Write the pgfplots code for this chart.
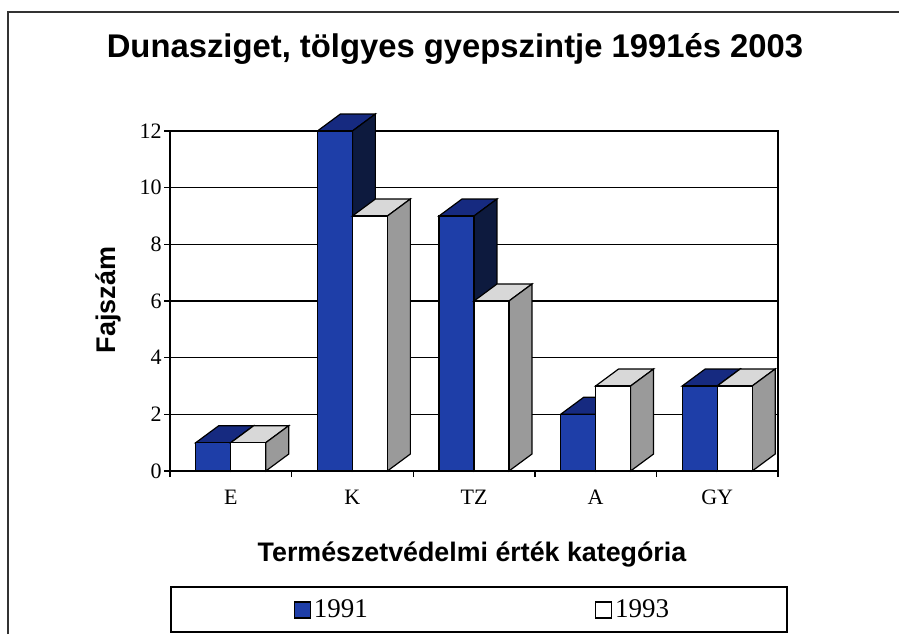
\documentclass[border=0pt]{standalone}
\usepackage{pgfplots}
\pgfplotsset{compat=1.18}
\usepackage{pgfplotstable}
\usepackage{fontspec}
\setmainfont{Liberation Serif}
\newfontfamily\arialfont{Liberation Sans}
\definecolor{front91}{RGB}{30,62,168}
\definecolor{top91}{RGB}{22,42,128}
\definecolor{side91}{RGB}{13,26,62}
\definecolor{top93}{RGB}{216,216,216}
\definecolor{side93}{RGB}{154,154,154}
\pgfplotstableread{
x a b
0 1 1
1 12 9
2 9 6
3 2 3
4 3 3
}\data
\def\bw{0.2878}
\def\dx{0.189}
\def\dy{0.6}
\newcommand\faces[4]{%
  \pgfplotsinvokeforeach{0,1,2,3,4}{%
    \pgfplotstablegetelem{##1}{#1}\of\data
    \pgfmathsetmacro\v{\pgfplotsretval}%
    \pgfmathsetmacro\xa{##1+#2}%
    \pgfmathsetmacro\xb{##1+#2+\bw}%
    \pgfmathsetmacro\xc{##1+#2+\bw+\dx}%
    \pgfmathsetmacro\xd{##1+#2+\dx}%
    \pgfmathsetmacro\vt{\v+\dy}%
    \edef\temp{\noexpand\addplot[forget plot,draw=black,line width=0.6pt,fill=#3] coordinates {(\xa,\v) (\xb,\v) (\xc,\vt) (\xd,\vt)} -- cycle;
      \noexpand\addplot[forget plot,draw=black,line width=0.6pt,fill=#4] coordinates {(\xb,0) (\xb,\v) (\xc,\vt) (\xc,\dy)} -- cycle;}%
    \temp
  }%
}
\begin{document}
\begin{tikzpicture}
\useasboundingbox (0,0) rectangle (449.5pt,317pt);
\draw[line width=0.9pt, black!80] (4pt,0) -- (4pt,311pt) -- (449.5pt,311pt);
\node[font=\arialfont\bfseries\fontsize{16.4}{19}\selectfont] at (227.5pt,292.5pt) {Dunasziget, tölgyes gyepszintje 1991és 2003};
\node[font=\arialfont\bfseries\fontsize{13.4}{16}\selectfont] at (236pt,39.5pt) {Természetvédelmi érték kategória};
\node[font=\arialfont\bfseries\fontsize{13.5}{16}\selectfont, rotate=90] at (54pt,167pt) {Fajszám};
\draw[line width=0.7pt] (85.5pt,1pt) rectangle (393.5pt,23.5pt);
\begin{axis}[
  at={(85pt,81.5pt)}, anchor=south west,
  scale only axis, width=304pt, height=170pt,
  xmin=-0.5, xmax=4.5, ymin=0, ymax=12,
  clip=false,
  axis line style={black, line width=0.7pt},
  ytick={0,2,4,6,8,10,12},
  yticklabels={0,2,4,6,8,10,12},
  ymajorgrids, major grid style={black, line width=0.7pt},
  xtick={0,1,2,3,4}, xticklabels={E,K,TZ,A,GY},
  minor xtick={-0.5,0.5,1.5,2.5,3.5,4.5},
  major x tick style={draw=none},
  tick align=outside, tick pos=left,
  major tick length=3pt, minor tick length=3pt,
  tick style={black, line width=0.7pt},
  yticklabel style={font=\fontsize{11}{13}\selectfont, inner sep=1pt},
  xticklabel style={font=\fontsize{11}{13}\selectfont, yshift=-3pt},
  legend columns=2,
  legend style={at={(axis cs:2.074,-4.906)}, anchor=center, draw=none, fill=none,
    font=\fontsize{13.5}{15}\selectfont, inner sep=0pt,
    nodes={inner sep=1.5pt},
    /tikz/every even column/.append style={column sep=112pt}},
  legend cell align=left,
]
\faces{a}{-0.2878}{top91}{side91}
\addplot[ybar, bar width=17.5pt, bar shift=-8.75pt, fill=front91, draw=black, line width=0.6pt,
  legend image code/.code={\draw[fill=front91,draw=black,line width=0.6pt] (-1.5pt,-4pt) rectangle (6.5pt,4pt);}]
  table[x=x,y=a]{\data};
\addlegendentry{1991}
\faces{b}{0}{top93}{side93}
\addplot[ybar, bar width=17.5pt, bar shift=8.75pt, fill=white, draw=black, line width=0.6pt,
  legend image code/.code={\draw[fill=white,draw=black,line width=0.6pt] (-1.5pt,-4pt) rectangle (6.5pt,4pt);}]
  table[x=x,y=b]{\data};
\addlegendentry{1993}
\end{axis}
\end{tikzpicture}
\end{document}
